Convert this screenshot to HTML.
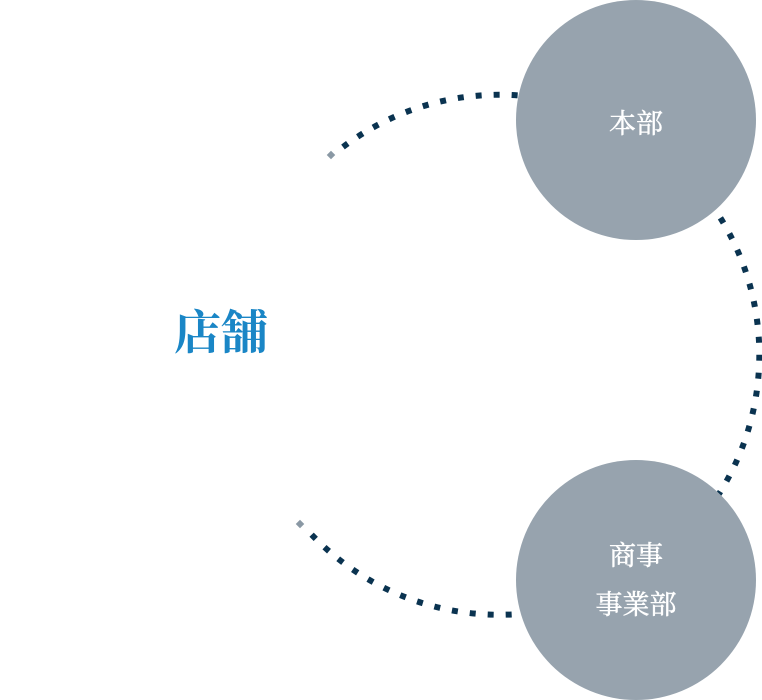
<!DOCTYPE html>
<html><head><meta charset="utf-8"><style>
html,body{margin:0;padding:0;background:#fff;width:762px;height:700px;overflow:hidden}
svg{display:block}
</style></head><body>
<svg width="762" height="700" viewBox="0 0 762 700" xmlns="http://www.w3.org/2000/svg">
<path d="M343 147 A260 260 0 1 1 311 534" fill="none" stroke="#0a3350" stroke-width="6" stroke-dasharray="6 12"/>
<rect x="328" y="152" width="6" height="6" fill="#8a98a4" transform="rotate(45 331 155)"/>
<rect x="297" y="521" width="6" height="6" fill="#8a98a4" transform="rotate(45 300 524)"/>
<circle cx="636" cy="120" r="120" fill="#97a3ae"/>
<circle cx="636" cy="580" r="120" fill="#97a3ae"/>
<g fill="#fff" stroke="#fff" stroke-width="0.5" font-size="27" text-anchor="middle" font-family="'Liberation Serif','Noto Serif CJK SC',serif">
<text x="636" y="133">本部</text>
<text x="636" y="565">商事</text>
<text x="636" y="614">事業部</text>
</g>
<text x="221" y="349" text-anchor="middle" fill="#1a86c6" font-size="47" font-weight="bold" font-family="'Liberation Serif','Noto Serif CJK SC',serif">店舗</text>
</svg>
</body></html>
